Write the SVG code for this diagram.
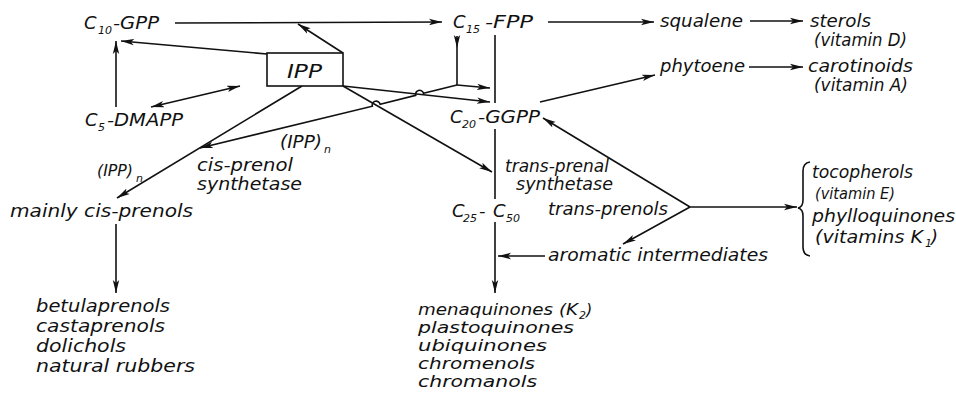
<svg xmlns="http://www.w3.org/2000/svg" width="956" height="394" viewBox="0 0 956 394">
<defs>
<style>
text{font-family:"DejaVu Sans","Liberation Sans",sans-serif;font-style:italic;font-size:18px;fill:#111}
.s{font-size:11px}
.m{font-size:17px}
.l{font-size:16px}
.ln{fill:none;stroke:#111;stroke-width:1.6}
.box{fill:#fff;stroke:#111;stroke-width:1.6}
</style>
<marker id="ah" markerWidth="14" markerHeight="8" refX="13" refY="4" orient="auto-start-reverse" markerUnits="userSpaceOnUse">
<path d="M0,0.8 L13,4 L0,7.2 L3,4 z" fill="#111"/>
</marker>
</defs>
<rect width="956" height="394" fill="#fff"/>

<g id="connectors">
<path class="ln" d="M175,23 L442,22" marker-end="url(#ah)"/>
<path class="ln" d="M343,53 L298,24" marker-end="url(#ah)"/>
<path class="ln" d="M267,54 L121,41" marker-end="url(#ah)"/>
<path class="ln" d="M116,107 L116,41" marker-end="url(#ah)"/>
<path class="ln" d="M151,107 L240,86" marker-start="url(#ah)" marker-end="url(#ah)"/>
<path class="ln" d="M302,86 L117,198" marker-end="url(#ah)"/>
<path class="ln" d="M343,86 L490,102" marker-end="url(#ah)"/>
<path class="ln" d="M343,86 L492,172" marker-end="url(#ah)"/>
<path class="ln" d="M457,85 L423.5,93.3 A4,4 0 0 0 415.7,95.3 L380.1,104.2 A4,4 0 0 0 372.3,106.2 L200,148" marker-end="url(#ah)"/>
<path class="ln" d="M457,36 L457,48" marker-end="url(#ah)"/>
<path class="ln" d="M457,48 L457,85"/>
<path class="ln" d="M457,85 L490,88" marker-end="url(#ah)"/>
<path class="ln" d="M495,35 L495,103"/>
<path class="ln" d="M495,129 L495,199"/>
<path class="ln" d="M495,222 L495,293" marker-end="url(#ah)"/>
<path class="ln" d="M548,22 L654,22" marker-end="url(#ah)"/>
<path class="ln" d="M750,21 L803,21" marker-end="url(#ah)"/>
<path class="ln" d="M540,102 L655,75" marker-end="url(#ah)"/>
<path class="ln" d="M749,67 L803,67" marker-end="url(#ah)"/>
<path class="ln" d="M690,207 L543,118" marker-end="url(#ah)"/>
<path class="ln" d="M690,207 L623,244" marker-end="url(#ah)"/>
<path class="ln" d="M690,207 L797,207" marker-end="url(#ah)"/>
<path class="ln" d="M545,256 L498,256" marker-end="url(#ah)"/>
<path class="ln" d="M116,224 L116,293" marker-end="url(#ah)"/>
<path class="ln" d="M810,162 Q803,163 803,171 L803,200 Q803,207 798,208 Q803,209 803,216 L803,247 Q803,255 810,256" stroke-width="1.3"/>
</g>

<g id="IPP">
<rect class="box" x="267" y="53" width="76" height="33"/>
<text x="287" y="78" style="font-size:20px" textLength="35" lengthAdjust="spacingAndGlyphs">IPP</text>
</g>
<g id="C10-GPP">
<text x="84" y="29">C</text><text class="s" x="98" y="34">10</text><text x="113" y="29" textLength="46" lengthAdjust="spacingAndGlyphs">-GPP</text>
</g>
<g id="C5-DMAPP">
<text x="85" y="126">C</text><text class="s" x="98" y="131">5</text><text x="107" y="126" textLength="76" lengthAdjust="spacingAndGlyphs">-DMAPP</text>
</g>
<g id="C15-FPP">
<text x="453" y="28">C</text><text class="s" x="466" y="33">15</text><text x="485" y="28" textLength="48" lengthAdjust="spacingAndGlyphs">-FPP</text>
</g>
<g id="C20-GGPP">
<text x="450" y="123">C</text><text class="s" x="462" y="128">20</text><text x="478" y="123" textLength="62" lengthAdjust="spacingAndGlyphs">-GGPP</text>
</g>
<g id="C25-C50">
<text x="452" y="217">C</text><text class="s" x="463" y="222">25</text><text x="479" y="217">-</text><text x="493" y="217">C</text><text class="s" x="506" y="222">50</text>
</g>
<g id="squalene"><text x="660" y="27" textLength="83" lengthAdjust="spacingAndGlyphs">squalene</text></g>
<g id="sterols">
<text x="810" y="27" textLength="61" lengthAdjust="spacingAndGlyphs">sterols</text>
<text class="m" x="814" y="46" textLength="93" lengthAdjust="spacingAndGlyphs">(vitamin D)</text>
</g>
<g id="phytoene"><text x="660" y="72" textLength="85" lengthAdjust="spacingAndGlyphs">phytoene</text></g>
<g id="carotinoids">
<text x="808" y="72" textLength="105" lengthAdjust="spacingAndGlyphs">carotinoids</text>
<text class="m" x="814" y="91" textLength="94" lengthAdjust="spacingAndGlyphs">(vitamin A)</text>
</g>
<g id="cis-label">
<text x="97" y="176" style="font-size:16px" textLength="36" lengthAdjust="spacingAndGlyphs">(IPP)</text><text class="s" x="136" y="182">n</text>
<text x="280" y="148" textLength="42" lengthAdjust="spacingAndGlyphs">(IPP)</text><text class="s" x="324" y="153">n</text>
<text class="m" x="197" y="171" textLength="96" lengthAdjust="spacingAndGlyphs">cis-prenol</text>
<text class="m" x="197" y="190" textLength="105" lengthAdjust="spacingAndGlyphs">synthetase</text>
</g>
<g id="mainly-cis-prenols"><text x="10" y="217" textLength="183" lengthAdjust="spacingAndGlyphs">mainly cis-prenols</text></g>
<g id="trans-label">
<text class="m" x="505" y="172" textLength="104" lengthAdjust="spacingAndGlyphs">trans-prenal</text>
<text class="m" x="516" y="190" textLength="97" lengthAdjust="spacingAndGlyphs">synthetase</text>
</g>
<g id="trans-prenols"><text x="548" y="215" textLength="120" lengthAdjust="spacingAndGlyphs">trans-prenols</text></g>
<g id="aromatic-intermediates"><text x="548" y="261" textLength="220" lengthAdjust="spacingAndGlyphs">aromatic intermediates</text></g>
<g id="tocopherols-phylloquinones">
<text x="812" y="178" textLength="101" lengthAdjust="spacingAndGlyphs">tocopherols</text>
<text x="815" y="199" style="font-size:16px" textLength="80" lengthAdjust="spacingAndGlyphs">(vitamin E)</text>
<text x="812" y="222" textLength="143" lengthAdjust="spacingAndGlyphs">phylloquinones</text>
<text x="815" y="243" textLength="108" lengthAdjust="spacingAndGlyphs">(vitamins K</text><text class="s" x="925" y="247">1</text><text x="931" y="243">)</text>
</g>
<g id="cis-products">
<text x="36" y="312" textLength="134" lengthAdjust="spacingAndGlyphs">betulaprenols</text>
<text x="36" y="332" textLength="129" lengthAdjust="spacingAndGlyphs">castaprenols</text>
<text x="36" y="352" textLength="90" lengthAdjust="spacingAndGlyphs">dolichols</text>
<text x="36" y="372" textLength="159" lengthAdjust="spacingAndGlyphs">natural rubbers</text>
</g>
<g id="trans-products">
<text class="l" x="418" y="315" textLength="160" lengthAdjust="spacingAndGlyphs">menaquinones (K</text><text class="s" x="579" y="319">2</text><text class="l" x="586" y="315">)</text>
<text class="l" x="418" y="333" textLength="156" lengthAdjust="spacingAndGlyphs">plastoquinones</text>
<text class="l" x="418" y="351" textLength="129" lengthAdjust="spacingAndGlyphs">ubiquinones</text>
<text class="l" x="418" y="369" textLength="117" lengthAdjust="spacingAndGlyphs">chromenols</text>
<text class="l" x="418" y="387" textLength="119" lengthAdjust="spacingAndGlyphs">chromanols</text>
</g>
</svg>
